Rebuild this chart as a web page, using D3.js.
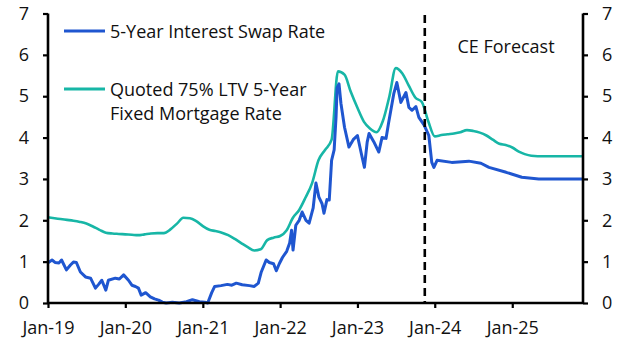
<!DOCTYPE html>
<html><head><meta charset="utf-8">
<script src="https://cdn.jsdelivr.net/npm/d3@7"></script>
<style>
html,body{margin:0;padding:0;background:#fff;}
text{font-family:"Open Sans",sans-serif;fill:#111;}
</style></head>
<body><svg id="c" width="625" height="357"></svg>
<script>
const swapDates = ["2019-01-01","2019-01-20","2019-02-03","2019-02-22","2019-03-06","2019-03-29","2019-04-17","2019-05-01","2019-05-15","2019-06-03","2019-06-27","2019-07-21","2019-08-13","2019-08-28","2019-09-12","2019-10-01","2019-10-13","2019-11-15","2019-12-04","2019-12-24",
"2020-01-16","2020-02-01","2020-02-18","2020-03-03","2020-03-16","2020-04-06","2020-04-28","2020-05-18","2020-06-06","2020-06-24","2020-07-12","2020-08-10","2020-09-12","2020-10-16","2020-11-13","2020-12-16",
"2021-01-10","2021-01-24","2021-02-12","2021-02-26","2021-03-28","2021-04-27","2021-05-18","2021-06-08","2021-07-06","2021-08-09","2021-09-01","2021-09-20","2021-10-04","2021-10-27","2021-11-11","2021-12-01","2021-12-14","2021-12-28",
"2022-01-12","2022-02-01","2022-02-15","2022-02-24","2022-03-03","2022-03-16","2022-04-01","2022-04-15","2022-05-03","2022-05-18","2022-06-06","2022-06-19","2022-07-03","2022-07-18","2022-07-27","2022-08-10","2022-08-21","2022-09-01","2022-09-13","2022-09-22","2022-09-27","2022-10-06","2022-10-15","2022-11-01","2022-11-22","2022-12-12",
"2023-01-01","2023-01-19","2023-02-03","2023-02-16","2023-02-25","2023-03-19","2023-04-12","2023-04-27","2023-05-16","2023-05-28","2023-06-22","2023-07-06","2023-07-25","2023-08-18","2023-09-01","2023-09-16","2023-10-04","2023-10-18","2023-11-12","2023-12-04","2023-12-18","2023-12-28",
"2024-01-12","2024-03-21","2024-06-10","2024-08-06","2024-09-13","2024-12-03","2025-02-15","2025-05-06","2025-12-01"];
const swapValues = [0.97,1.04,0.98,0.97,1.04,0.80,0.92,0.99,0.98,0.75,0.63,0.60,0.36,0.45,0.55,0.31,0.55,0.60,0.58,0.68,
0.55,0.43,0.40,0.36,0.19,0.25,0.15,0.10,0.07,0.02,0.00,0.02,0.00,0.03,0.08,0.03,
0.02,0.00,0.25,0.40,0.42,0.45,0.43,0.48,0.44,0.42,0.40,0.48,0.75,1.04,0.98,0.95,0.78,0.95,
1.10,1.25,1.45,1.76,1.28,1.88,2.00,2.20,2.00,1.93,2.30,2.90,2.56,2.40,2.17,2.50,2.49,3.45,3.70,4.50,5.20,5.30,4.83,4.25,3.77,3.95,
4.05,3.62,3.28,3.89,4.10,3.90,3.65,4.00,3.98,4.35,5.07,5.33,4.85,5.09,4.73,4.66,4.75,4.49,4.30,4.05,3.40,3.28,
3.45,3.40,3.43,3.38,3.28,3.16,3.04,3.00,3.00];

const mortDates = ["2019-01-01","2019-02-01","2019-03-01","2019-04-01","2019-05-01","2019-06-01","2019-07-01","2019-08-01","2019-09-01","2019-10-01","2019-11-01","2019-12-01",
"2020-01-01","2020-02-01","2020-03-01","2020-04-01","2020-05-01","2020-06-01","2020-07-01","2020-08-01","2020-09-01","2020-10-01","2020-11-01","2020-12-01",
"2021-01-01","2021-02-01","2021-03-01","2021-04-01","2021-05-01","2021-06-01","2021-07-01","2021-08-01","2021-09-01","2021-10-01","2021-11-01","2021-12-01",
"2022-01-01","2022-02-01","2022-03-01","2022-04-01","2022-05-01","2022-06-01","2022-07-01","2022-08-01","2022-09-01","2022-10-01","2022-11-01","2022-12-01",
"2023-01-01","2023-02-01","2023-03-01","2023-04-01","2023-05-01","2023-06-01","2023-07-01","2023-08-01","2023-09-01","2023-10-01","2023-11-01","2023-12-01",
"2024-01-01","2024-02-01","2024-03-01","2024-04-01","2024-05-01","2024-06-01","2024-07-01","2024-08-01","2024-09-01","2024-10-01","2024-11-01","2024-12-01",
"2025-01-01","2025-02-01","2025-03-01","2025-04-01","2025-05-01","2025-12-01"];
const mortValues = [2.07,2.05,2.03,2.01,1.99,1.96,1.92,1.85,1.77,1.70,1.68,1.67,
1.66,1.65,1.64,1.66,1.68,1.69,1.69,1.78,1.92,2.06,2.05,1.98,
1.86,1.77,1.74,1.70,1.64,1.55,1.45,1.35,1.27,1.30,1.52,1.58,
1.62,1.76,2.05,2.25,2.55,2.90,3.45,3.70,3.95,5.60,5.52,5.10,
4.72,4.38,4.22,4.13,4.40,5.00,5.68,5.55,5.25,4.97,4.86,4.40,
4.03,4.06,4.08,4.10,4.13,4.18,4.16,4.12,4.05,3.95,3.85,3.82,
3.76,3.66,3.60,3.56,3.55,3.55];

const yTicks = [0,1,2,3,4,5,6,7];
const xTickDates = ["2019-01-01","2020-01-01","2021-01-01","2022-01-01","2023-01-01","2024-01-01","2025-01-01"];
const xTickLabels = ["Jan-19","Jan-20","Jan-21","Jan-22","Jan-23","Jan-24","Jan-25"];
const forecastStart = "2023-11-15";
const seriesNames = ["5-Year Interest Swap Rate", ["Quoted 75% LTV 5-Year","Fixed Mortgage Rate"]];
const forecastLabel = "CE Forecast";

const parse = d3.timeParse("%Y-%m-%d");
const svg = d3.select("#c");
const L = 48, R = 583, T = 13.5, B = 303;
const FS = "18px";
const x = d3.scaleTime().domain([parse("2019-01-01"), parse("2025-12-01")]).range([L, R]);
const y = d3.scaleLinear().domain([0,7]).range([B, T]);

const swap = swapDates.map((d,i)=>({d:parse(d), v:swapValues[i]}));
const mort = mortDates.map((d,i)=>({d:parse(d), v:mortValues[i]}));
const blue = "#1f56d0", teal = "#17b6a6";

svg.append("path").datum(mort).attr("d", d3.line().x(p=>x(p.d)).y(p=>y(p.v)).curve(d3.curveMonotoneX))
  .attr("fill","none").attr("stroke",teal).attr("stroke-width",2.6).attr("stroke-linejoin","round");
svg.append("path").datum(swap).attr("d", d3.line().x(p=>x(p.d)).y(p=>y(p.v)))
  .attr("fill","none").attr("stroke",blue).attr("stroke-width",3).attr("stroke-linejoin","round");

// forecast line
svg.append("line").attr("x1",x(parse(forecastStart))).attr("x2",x(parse(forecastStart)))
  .attr("y1",15).attr("y2",B).attr("stroke","#000").attr("stroke-width",2.6).attr("stroke-dasharray","8,5");

// axes
const left = svg.append("g").attr("transform",`translate(${L},0)`)
  .call(d3.axisLeft(y).tickValues(yTicks).tickSize(5).tickPadding(6).tickFormat(d3.format("d")));
const right = svg.append("g").attr("transform",`translate(${R},0)`)
  .call(d3.axisRight(y).tickValues(yTicks).tickSize(5).tickPadding(14).tickFormat(d3.format("d")));
const bottom = svg.append("g").attr("transform",`translate(0,${B})`)
  .call(d3.axisBottom(x).tickValues(xTickDates.map(parse)).tickSize(5).tickPadding(8)
    .tickFormat((d,i)=>xTickLabels[i]));
[left,right,bottom].forEach(g=>{
  g.select(".domain").attr("stroke","#000").attr("stroke-width",2.6);
  g.selectAll(".tick line").attr("stroke","#000").attr("stroke-width",2.2);
  g.selectAll("text").style("font-size",FS).style("font-family","'Open Sans',sans-serif").attr("fill","#111");
});
left.select(".domain").attr("d",`M0,${T}V${B}`);
right.select(".domain").attr("d",`M0,${T}V${B}`);
bottom.select(".domain").attr("d",`M${L},0H${R}`);
left.selectAll("text").attr("x",-19);
bottom.selectAll("text").attr("y",31).attr("dy",0);

// legend
const lg = svg.append("g");
lg.append("line").attr("x1",64).attr("x2",105).attr("y1",31).attr("y2",31).attr("stroke",blue).attr("stroke-width",2.8);
lg.append("text").attr("x",110).attr("y",38).style("font-size",FS).text(seriesNames[0]);
lg.append("line").attr("x1",64).attr("x2",105).attr("y1",89).attr("y2",89).attr("stroke",teal).attr("stroke-width",2.8);
lg.append("text").attr("x",110).attr("y",96).style("font-size",FS).text(seriesNames[1][0]);
lg.append("text").attr("x",110).attr("y",120).style("font-size",FS).text(seriesNames[1][1]);
svg.append("text").attr("x",506).attr("y",52.5).attr("text-anchor","middle").style("font-size",FS).text(forecastLabel);
</script></body></html>
